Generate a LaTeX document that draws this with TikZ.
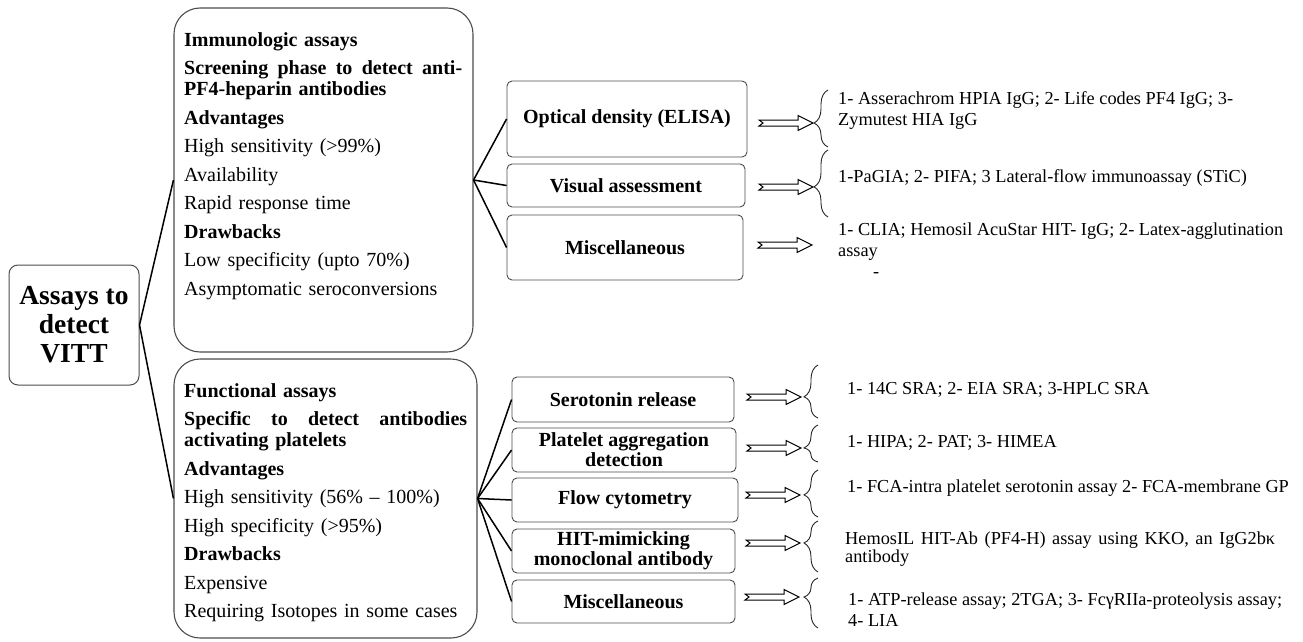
\documentclass[tikz,border=0pt]{standalone}
\usepackage{amsmath, amssymb}
\usepackage{xcolor}
\usepackage{fontspec}
\setmainfont{Liberation Serif}
\usepackage{tikz}
\usetikzlibrary{
    decorations.pathreplacing
}
\newcommand{\vittfont}{\fontsize{27.5}{29}\selectfont\bfseries}
\newcommand{\cellfont}{\fontsize{20}{20}\selectfont\bfseries}
\newcommand{\listfont}{\fontsize{20}{21}\selectfont}
\newcommand{\notefont}{\fontsize{18.3}{21}\selectfont}
\tikzset{
    mainbox/.style={draw=black!70, line width=1, rounded corners=9, align=center,
        minimum width=130, minimum height=120, inner sep=0, font=\vittfont},
    bigbox/.style={draw=black!70, line width=1.1, rounded corners=26, inner sep=0},
    smallbox/.style={draw=black!70, line width=0.9, rounded corners=5, align=center,
        inner sep=0, font=\cellfont},
    listtext/.style={anchor=north west, align=left, inner sep=0, font=\listfont},
    notetext/.style={anchor=west, align=left, inner sep=0, font=\notefont},
    fan/.style={line width=1.5},
    curly/.style={decorate, line width=0.9, draw=black!85,
        decoration={brace, amplitude=14, aspect=#1}},
    hollowarrow/.pic={
        \draw[line width=1] (0,-3) -- (39,-3) -- (39,-7.5) -- (54,0) -- (39,7.5)
            -- (39,3) -- (0,3) -- (4,0) -- cycle;
    }
}

\begin{document}
\begin{tikzpicture}[x=1pt, y=-1pt]
        \useasboundingbox (0,0) rectangle (1303,642);
        % left and middle column
        \draw (74,325) node[mainbox](vitt){Assays to\\detect\\VITT};
        \draw (323.5,180) node[bigbox, minimum width=299, minimum height=344](imm){};
        \draw (325.5,498.5) node[bigbox, minimum width=303, minimum height=279](func){};
        \draw (184,32) node[listtext, text width=278](immtext){%
            \textbf{Immunologic assays}\\[7.5pt]
            {\bfseries\makebox[278pt][s]{Screening\hfill phase\hfill to\hfill detect\hfill anti-}}\\
            \textbf{PF4-heparin antibodies}\\[7.5pt]
            \textbf{Advantages}\\[7.5pt]
            High sensitivity (>99\%)\\[7.5pt]
            Availability\\[7.5pt]
            Rapid response time\\[7.5pt]
            \textbf{Drawbacks}\\[7.5pt]
            Low specificity (upto 70\%)\\[7.5pt]
            Asymptomatic seroconversions};
        \draw (184,383) node[listtext, text width=283](functext){%
            \textbf{Functional assays}\\[7.5pt]
            {\bfseries\makebox[283pt][s]{Specific\hfill to\hfill detect\hfill antibodies}}\\
            \textbf{activating platelets}\\[7.5pt]
            \textbf{Advantages}\\[7.5pt]
            High sensitivity (56\% -- 100\%)\\[7.5pt]
            High specificity (>95\%)\\[7.5pt]
            \textbf{Drawbacks}\\[7.5pt]
            Expensive\\[7.5pt]
            Requiring Isotopes in some cases};
        \draw[fan] (vitt.east) to (imm.west);
        \draw[fan] (vitt.east) to (func.west);

        % immunologic methods
        \draw (627,119) node[smallbox, minimum width=240, minimum height=76](elisa){Optical density (ELISA)};
        \draw (626,185.5) node[smallbox, minimum width=238, minimum height=43](visual){Visual assessment};
        \draw (625,247.5) node[smallbox, minimum width=236, minimum height=65](immmisc){Miscellaneous};
        \draw[fan] (imm.east) to (elisa.west);
        \draw[fan] (imm.east) to (visual.west);
        \draw[fan] (imm.east) to (immmisc.west);

        % functional methods
        \draw (623,399.5) node[smallbox, minimum width=222, minimum height=45](sra){Serotonin release};
        \draw (624,450) node[smallbox, minimum width=224, minimum height=44](aggr){Platelet aggregation\\detection};
        \draw (625,500) node[smallbox, minimum width=226, minimum height=44](flow){Flow cytometry};
        \draw (623.5,551) node[smallbox, minimum width=223, minimum height=44](hit){HIT-mimicking\\monoclonal antibody};
        \draw (623.5,601.5) node[smallbox, minimum width=223, minimum height=43](funcmisc){Miscellaneous};
        \draw[fan] (func.east) to (sra.west);
        \draw[fan] (func.east) to (aggr.west);
        \draw[fan] (func.east) to (flow.west);
        \draw[fan] (func.east) to (hit.west);
        \draw[fan] (func.east) to (funcmisc.west);

        % arrows and braces
        \pic at (759,123) {hollowarrow};
        \pic at (759,187) {hollowarrow};
        \pic at (758,245) {hollowarrow};
        \pic at (747,397) {hollowarrow};
        \pic at (747,448) {hollowarrow};
        \pic at (746,495) {hollowarrow};
        \pic at (746,543) {hollowarrow};
        \pic at (745,597) {hollowarrow};
        \draw[curly=0.42] (828,147) -- (828,90);
        \draw[curly=0.45] (828,217) -- (828,150);
        \draw[curly=0.40] (818,418) -- (818,365);
        \draw[curly=0.38] (818,462) -- (818,425);
        \draw[curly=0.47] (818,517) -- (818,470);
        \draw[curly=0.57] (818,572) -- (818,521);
        \draw[curly=0.62] (818,628) -- (818,578);

        % right column
        \draw (838,111) node[notetext](elisaref){1- Asserachrom HPIA IgG; 2- Life codes PF4 IgG; 3-\\Zymutest HIA IgG};
        \draw (838,178) node[notetext](visualref){1-PaGIA; 2- PIFA; 3 Lateral-flow immunoassay (STiC)};
        \draw (838,250) node[notetext](immmiscref){1- CLIA; Hemosil AcuStar HIT- IgG; 2- Latex-agglutination\\assay\\\hspace*{35pt}-};
        \draw (847,390) node[notetext](sraref){1- 14C SRA; 2- EIA SRA; 3-HPLC SRA};
        \draw (847,443) node[notetext](aggrref){1- HIPA; 2- PAT; 3- HIMEA};
        \draw (847,488) node[notetext](flowref){1- FCA-intra platelet serotonin assay 2- FCA-membrane GP};
        \draw (845,549) node[notetext, font=\fontsize{18.3}{18}\selectfont](hitref){%
            \makebox[430pt][s]{HemosIL HIT-Ab (PF4-H) assay using KKO, an IgG2bκ}\\antibody};
        \draw (848,610) node[notetext](funcmiscref){1- ATP-release assay; 2TGA; 3- FcγRIIa-proteolysis assay;\\4- LIA};
    \end{tikzpicture}
\end{document}
